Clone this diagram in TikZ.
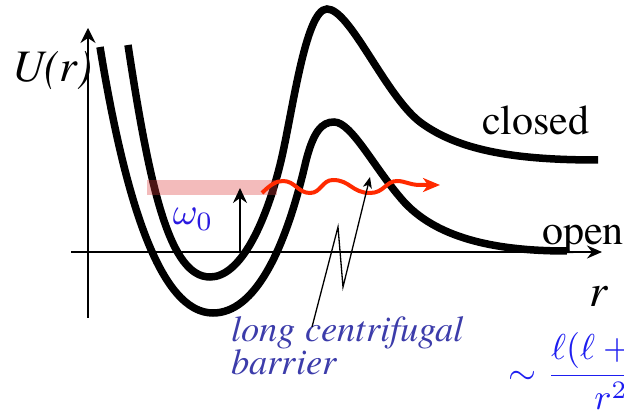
\documentclass[tikz,border=0pt]{standalone}
\usepackage{amsmath,amssymb}
\usepackage{fontspec}
\setmainfont{texgyretermes}[Extension=.otf, UprightFont=*-regular, ItalicFont=*-italic, BoldFont=*-bold, BoldItalicFont=*-bolditalic]
\usetikzlibrary{arrows.meta, positioning, calc}
\definecolor{bandred}{HTML}{DC3C3C}
\definecolor{wavered}{HTML}{FF2A00}
\definecolor{slate}{HTML}{3C3CAA}
\definecolor{formblue}{HTML}{1E1EF0}
\definecolor{omblue}{HTML}{2A1AE0}

\begin{document}
\begin{tikzpicture}[x=1pt, y=-1pt, >=Stealth]
  \useasboundingbox (0,0) rectangle (624,419);
  \clip (0,0) rectangle (624,419);
  % axes
  \coordinate (ybot) at (88,318);
  \coordinate (ytop) at (88,28);
  \coordinate (xl) at (71,252);
  \coordinate (xr) at (602,252);
  \draw[line width=1.5pt, -{Stealth[length=15pt, width=15pt, inset=5pt]}] (ybot) -- (ytop);
  \draw[line width=1.5pt, -{Stealth[length=15pt, width=13pt, inset=5pt]}] (xl) -- (xr);
  \node[font=\fontsize{45}{50}\selectfont\itshape, anchor=base west, inner sep=0pt] (Ulab) at (12,82) {U(r)};
  \node[font=\fontsize{46}{50}\selectfont\itshape, anchor=base west, inner sep=0pt] (rlab) at (589,307) {r};
  % the two channels
  \draw[line width=7.5pt]
    (128,45) .. controls (150,190) and (170,277) .. (210,277)
    .. controls (240,277) and (265,225) .. (280,165)
    .. controls (292,117) and (305,9) .. (327,9)
    .. controls (350,9) and (385,95) .. (420,122)
    .. controls (460,152) and (520,160) .. (598,160);
  \draw[line width=7.5pt]
    (100,47) .. controls (125,200) and (160,313) .. (213,313)
    .. controls (255,313) and (285,250) .. (305,165)
    .. controls (313,131) and (322,122) .. (334,122)
    .. controls (352,122) and (375,170) .. (405,203)
    .. controls (440,240) and (500,251) .. (567,251);
  \node[font=\fontsize{42}{48}\selectfont, anchor=base west, inner sep=0pt] (closed) at (482,135) {closed};
  \node[font=\fontsize{42}{48}\selectfont, anchor=base west, inner sep=0pt] (open) at (542,245) {open};
  % bound level and the excitation
  \fill[bandred, opacity=0.35] (147,180) rectangle (277,195);
  \coordinate (gs) at (240,252);
  \coordinate (lev) at (240,188);
  \draw[line width=2pt, -{Stealth[length=15pt, width=14pt, inset=5pt]}] (gs) -- (lev);
  \node[scale=3.8, text=omblue, anchor=base west, inner sep=0pt] (omega) at (172,225) {$\omega_0$};
  % escaping wave
  \coordinate (emit) at (262,193);
  \coordinate (escape) at (440,185);
  \draw[wavered, line width=4pt, -{Stealth[length=17pt, width=14pt, inset=5pt]}]
    (emit) .. controls (270,185) and (276,181) .. (283,181)
    .. controls (295,181) and (298,193) .. (310,193)
    .. controls (321,193) and (322,180) .. (333,180)
    .. controls (350,180) and (352,193) .. (370,193)
    .. controls (384,193) and (386,181) .. (397,181)
    .. controls (405,181) and (410,185) .. (420,185) -- (escape);
  % barrier label and its pointer
  \node[font=\fontsize{36.5}{33}\selectfont\itshape, text=slate, align=left, anchor=north west, inner sep=0pt] (barrier) at (231,316) {long centrifugal\\barrier};
  \coordinate (tail) at (312,327);
  \coordinate (kinkA) at (338,227);
  \coordinate (kinkB) at (343,287);
  \coordinate (hit) at (370,177);
  \draw[line width=1.3pt, -{Stealth[length=11pt, width=9pt, inset=3pt]}] (tail) -- (kinkA) -- (kinkB) -- (hit);
  \node[scale=3.6, text=formblue, anchor=west, inner sep=0pt] (cfterm) at (508,371) {$\displaystyle\sim\frac{\ell(\ell+1)}{r^2}$};
\end{tikzpicture}
\end{document}
